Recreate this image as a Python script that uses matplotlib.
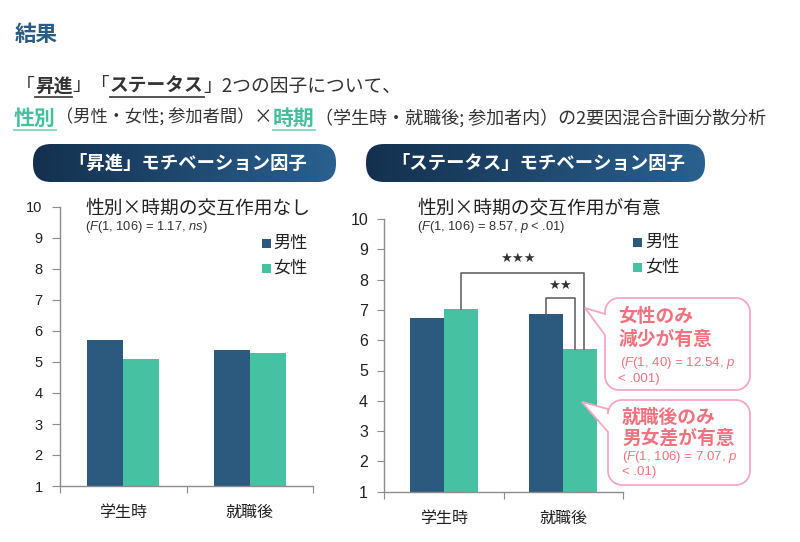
import numpy as np
import matplotlib
matplotlib.use("Agg")
import matplotlib.pyplot as plt
from matplotlib.patches import FancyBboxPatch, Rectangle, Polygon

plt.rcParams['mathtext.fontset'] = 'custom'
plt.rcParams['mathtext.rm'] = 'Liberation Sans'
plt.rcParams['mathtext.it'] = 'Liberation Sans:italic'

# ---------------- data ----------------
categories = ['学生時', '就職後']
series_names = ['男性', '女性']
promo_male = [5.7, 5.4]
promo_female = [5.1, 5.3]
status_male = [6.74, 6.88]
status_female = [7.03, 5.70]
yticks = list(range(1, 11))

MALE = '#2B5A7E'
FEMALE = '#46C2A2'
TEAL = '#45C09E'
PINK_TXT = '#F0727F'
PINK_EDGE = '#F7A6C6'
JP = ['Noto Sans CJK JP', 'DejaVu Sans']
NUM = ['Liberation Sans', 'Noto Sans CJK JP']

W, H = 800, 542
fig = plt.figure(figsize=(8, 5.42), dpi=100)
fig.patch.set_facecolor('white')


def add_ax(l, r, t, b, **kw):
    return fig.add_axes([l / W, 1 - b / H, (r - l) / W, (b - t) / H], **kw)


bw = 0.285


def bar_chart(ax, male, female, tick_fs, pad, tlen):
    x = np.arange(len(categories))
    ax.bar(x - bw / 2, male, bw, color=MALE, zorder=2)
    ax.bar(x + bw / 2, female, bw, color=FEMALE, zorder=2)
    ax.set_ylim(1, 10)
    ax.set_xlim(-0.5, len(categories) - 0.5)
    ax.set_facecolor('none')
    for s in ['top', 'right']:
        ax.spines[s].set_visible(False)
    for s in ['left', 'bottom']:
        ax.spines[s].set_color('#8C8C8C')
        ax.spines[s].set_linewidth(1.0)
    ax.set_yticks(yticks)
    ax.set_yticklabels([str(v) for v in yticks], family=NUM, fontsize=tick_fs, color='#222222')
    ax.tick_params(axis='y', length=tlen, color='#8C8C8C', pad=pad, direction='out')
    ax.set_xticks(np.arange(-0.5, len(categories), 1.0))
    ax.set_xticklabels([])
    ax.set_xticks(x, minor=True)
    ax.set_xticklabels(categories, minor=True, family=JP, fontsize=11.5, color='#222222')
    ax.tick_params(axis='x', which='major', length=5, color='#8C8C8C', direction='out')
    ax.tick_params(axis='x', which='minor', length=0, pad=13)
    # bars start from the bottom limit of the axis
    for p in ax.patches:
        p.set_y(1)
        p.set_height(p.get_height() - 1)


axL = add_ax(60, 313, 207, 486)
bar_chart(axL, promo_male, promo_female, 10.5, 6.5, 6)

axR = add_ax(384, 623, 219, 491.7)
bar_chart(axR, status_male, status_female, 11.5, 6.5, 5)

# significance brackets on right chart
lc = '#666666'
xl = 0 + bw / 2
xr = 1 + bw / 2 + 0.035
ytop = 8.21
axR.plot([xl, xl, xr, xr], [status_female[0], ytop, ytop, status_female[1]], color=lc, lw=1.2, zorder=3)
xl2 = 1 - bw / 2
xr2 = 1 + bw / 2 - 0.045
ytop2 = 7.38
axR.plot([xl2, xl2, xr2, xr2], [status_male[1], ytop2, ytop2, status_female[1]], color=lc, lw=1.2, zorder=3)
axR.text(0.62, 8.71, '★★★', ha='center', va='center', fontsize=9.5, color='#333333', family='DejaVu Sans')
axR.text(0.97, 7.8, '★★', ha='center', va='center', fontsize=9.5, color='#333333', family='DejaVu Sans')

# ---------------- overlay for decorations ----------------
ov = fig.add_axes([0, 0, 1, 1], zorder=10)
ov.set_xlim(0, W)
ov.set_ylim(H, 0)
ov.axis('off')
ov.patch.set_alpha(0)

renderer = fig.canvas.get_renderer()


def seq_text(x, y, pieces):
    """pieces: (text, fontsize, color, weight, underline_color or None)"""
    for txt, fs, col, wt, ul in pieces:
        t = ov.text(x, y, txt, fontsize=fs, color=col, weight=wt, family=JP,
                    ha='left', va='center')
        bb = t.get_window_extent(renderer)
        w = bb.width
        if ul:
            yb = y + bb.height / 2 + 1
            ov.plot([x, x + w], [yb, yb], color=ul, lw=1.3)
        x += w
    return x


ov.text(15, 34, '結果', fontsize=15.5, weight='bold', color='#2B5C84', family=JP, va='center', ha='left')

TXT = '#333333'
seq_text(16, 86, [
    ('「', 13.5, TXT, 'normal', None),
    ('昇進', 13.5, TXT, 'bold', '#444444'),
    ('」「', 13.5, TXT, 'normal', None),
    ('ステータス', 13.5, TXT, 'bold', '#444444'),
    ('」2つの因子について、', 13.5, TXT, 'normal', None),
])
seq_text(14, 118, [
    ('性別', 15, TEAL, 'bold', '#7FD6B8'),
    ('（男性・女性; 参加者間）', 12.4, TXT, 'normal', None),
    ('×', 13.5, TXT, 'normal', None),
    ('時期', 15, TEAL, 'bold', '#7FD6B8'),
    ('（学生時・就職後; 参加者内）の2要因混合計画分散分析', 13.0, TXT, 'normal', None),
])


# gradient buttons
def button(x0, x1, y0, y1, label):
    r = (y1 - y0) / 2
    patch = FancyBboxPatch((x0, y0), x1 - x0, y1 - y0,
                           boxstyle=f'round,pad=0,rounding_size={r * 0.95}',
                           facecolor='none', edgecolor='none')
    ov.add_patch(patch)
    grad = np.linspace(0, 1, 256).reshape(1, -1)
    cmap = matplotlib.colors.LinearSegmentedColormap.from_list('g', ['#14304E', '#2A6190'])
    im = ov.imshow(grad, extent=(x0, x1, y1, y0), cmap=cmap, aspect='auto', zorder=1)
    im.set_clip_path(patch)
    ov.text((x0 + x1) / 2 + 3, (y0 + y1) / 2, label, color='white', fontsize=13.2,
            weight='bold', family=JP, ha='center', va='center', zorder=2)


button(33, 336, 144, 182, '「昇進」モチベーション因子')
button(366, 705, 144, 182, '「ステータス」モチベーション因子')
ov.set_xlim(0, W)
ov.set_ylim(H, 0)

# chart titles and stats
ov.text(85, 208, '性別×時期の交互作用なし', fontsize=13.5, family=JP, color='#222222', va='center')
ov.text(85, 227, r'($\it{F}$(1, 106) = 1.17, $\it{ns}$)', fontsize=9.3, family=NUM, color='#333333', va='center')
ov.text(417, 208, '性別×時期の交互作用が有意', fontsize=13.5, family=JP, color='#222222', va='center')
ov.text(417, 227, r'($\it{F}$(1, 106) = 8.57, $\it{p}$ < .01)', fontsize=9.3, family=NUM, color='#333333', va='center')

# legends
for (sx, tx, ys) in [(262, 273, (243, 268)), (633, 645, (242, 267))]:
    for name, col, yy in zip(series_names, [MALE, FEMALE], ys):
        ov.add_patch(Rectangle((sx, yy - 4.5), 9, 9, facecolor=col, edgecolor='none'))
        ov.text(tx, yy, name, fontsize=12.3, family=JP, color='#222222', va='center')


# callouts
def callout(x0, x1, y0, y1, tip, b1, b2, r=14):
    pts = []

    def arc(cx, cy, a0, a1):
        for a in np.linspace(a0, a1, 12):
            pts.append((cx + r * np.cos(a), cy + r * np.sin(a)))
    arc(x0 + r, y0 + r, np.pi, 1.5 * np.pi)
    arc(x1 - r, y0 + r, 1.5 * np.pi, 2 * np.pi)
    arc(x1 - r, y1 - r, 0, 0.5 * np.pi)
    arc(x0 + r, y1 - r, 0.5 * np.pi, np.pi)
    pts.append((x0, b2))
    pts.append(tip)
    pts.append((x0, b1))
    ov.add_patch(Polygon(pts, closed=True, facecolor='white', edgecolor=PINK_EDGE, lw=1.3, zorder=3))


callout(605, 750, 298, 390, (585, 308), 314, 335)
callout(608, 750, 400, 485, (582, 402), 409, 432)

ov.text(618, 316, '女性のみ', fontsize=13.5, weight='bold', color=PINK_TXT, family=JP, va='center', zorder=4)
ov.text(618, 339, '減少が有意', fontsize=13.5, weight='bold', color=PINK_TXT, family=JP, va='center', zorder=4)
ov.text(620, 363, r'($\it{F}$(1, 40) = 12.54, $\it{p}$', fontsize=9.5, color=PINK_TXT, family=NUM, va='center', zorder=4)
ov.text(618, 379, '< .001)', fontsize=9.5, color=PINK_TXT, family=NUM, va='center', zorder=4)

ov.text(622, 417, '就職後のみ', fontsize=13.5, weight='bold', color=PINK_TXT, family=JP, va='center', zorder=4)
ov.text(622, 438, '男女差が有意', fontsize=13.5, weight='bold', color=PINK_TXT, family=JP, va='center', zorder=4)
ov.text(622, 457, r'($\it{F}$(1, 106) = 7.07, $\it{p}$', fontsize=9.5, color=PINK_TXT, family=NUM, va='center', zorder=4)
ov.text(622, 472, '< .01)', fontsize=9.5, color=PINK_TXT, family=NUM, va='center', zorder=4)

fig.savefig('out.png', dpi=100)
